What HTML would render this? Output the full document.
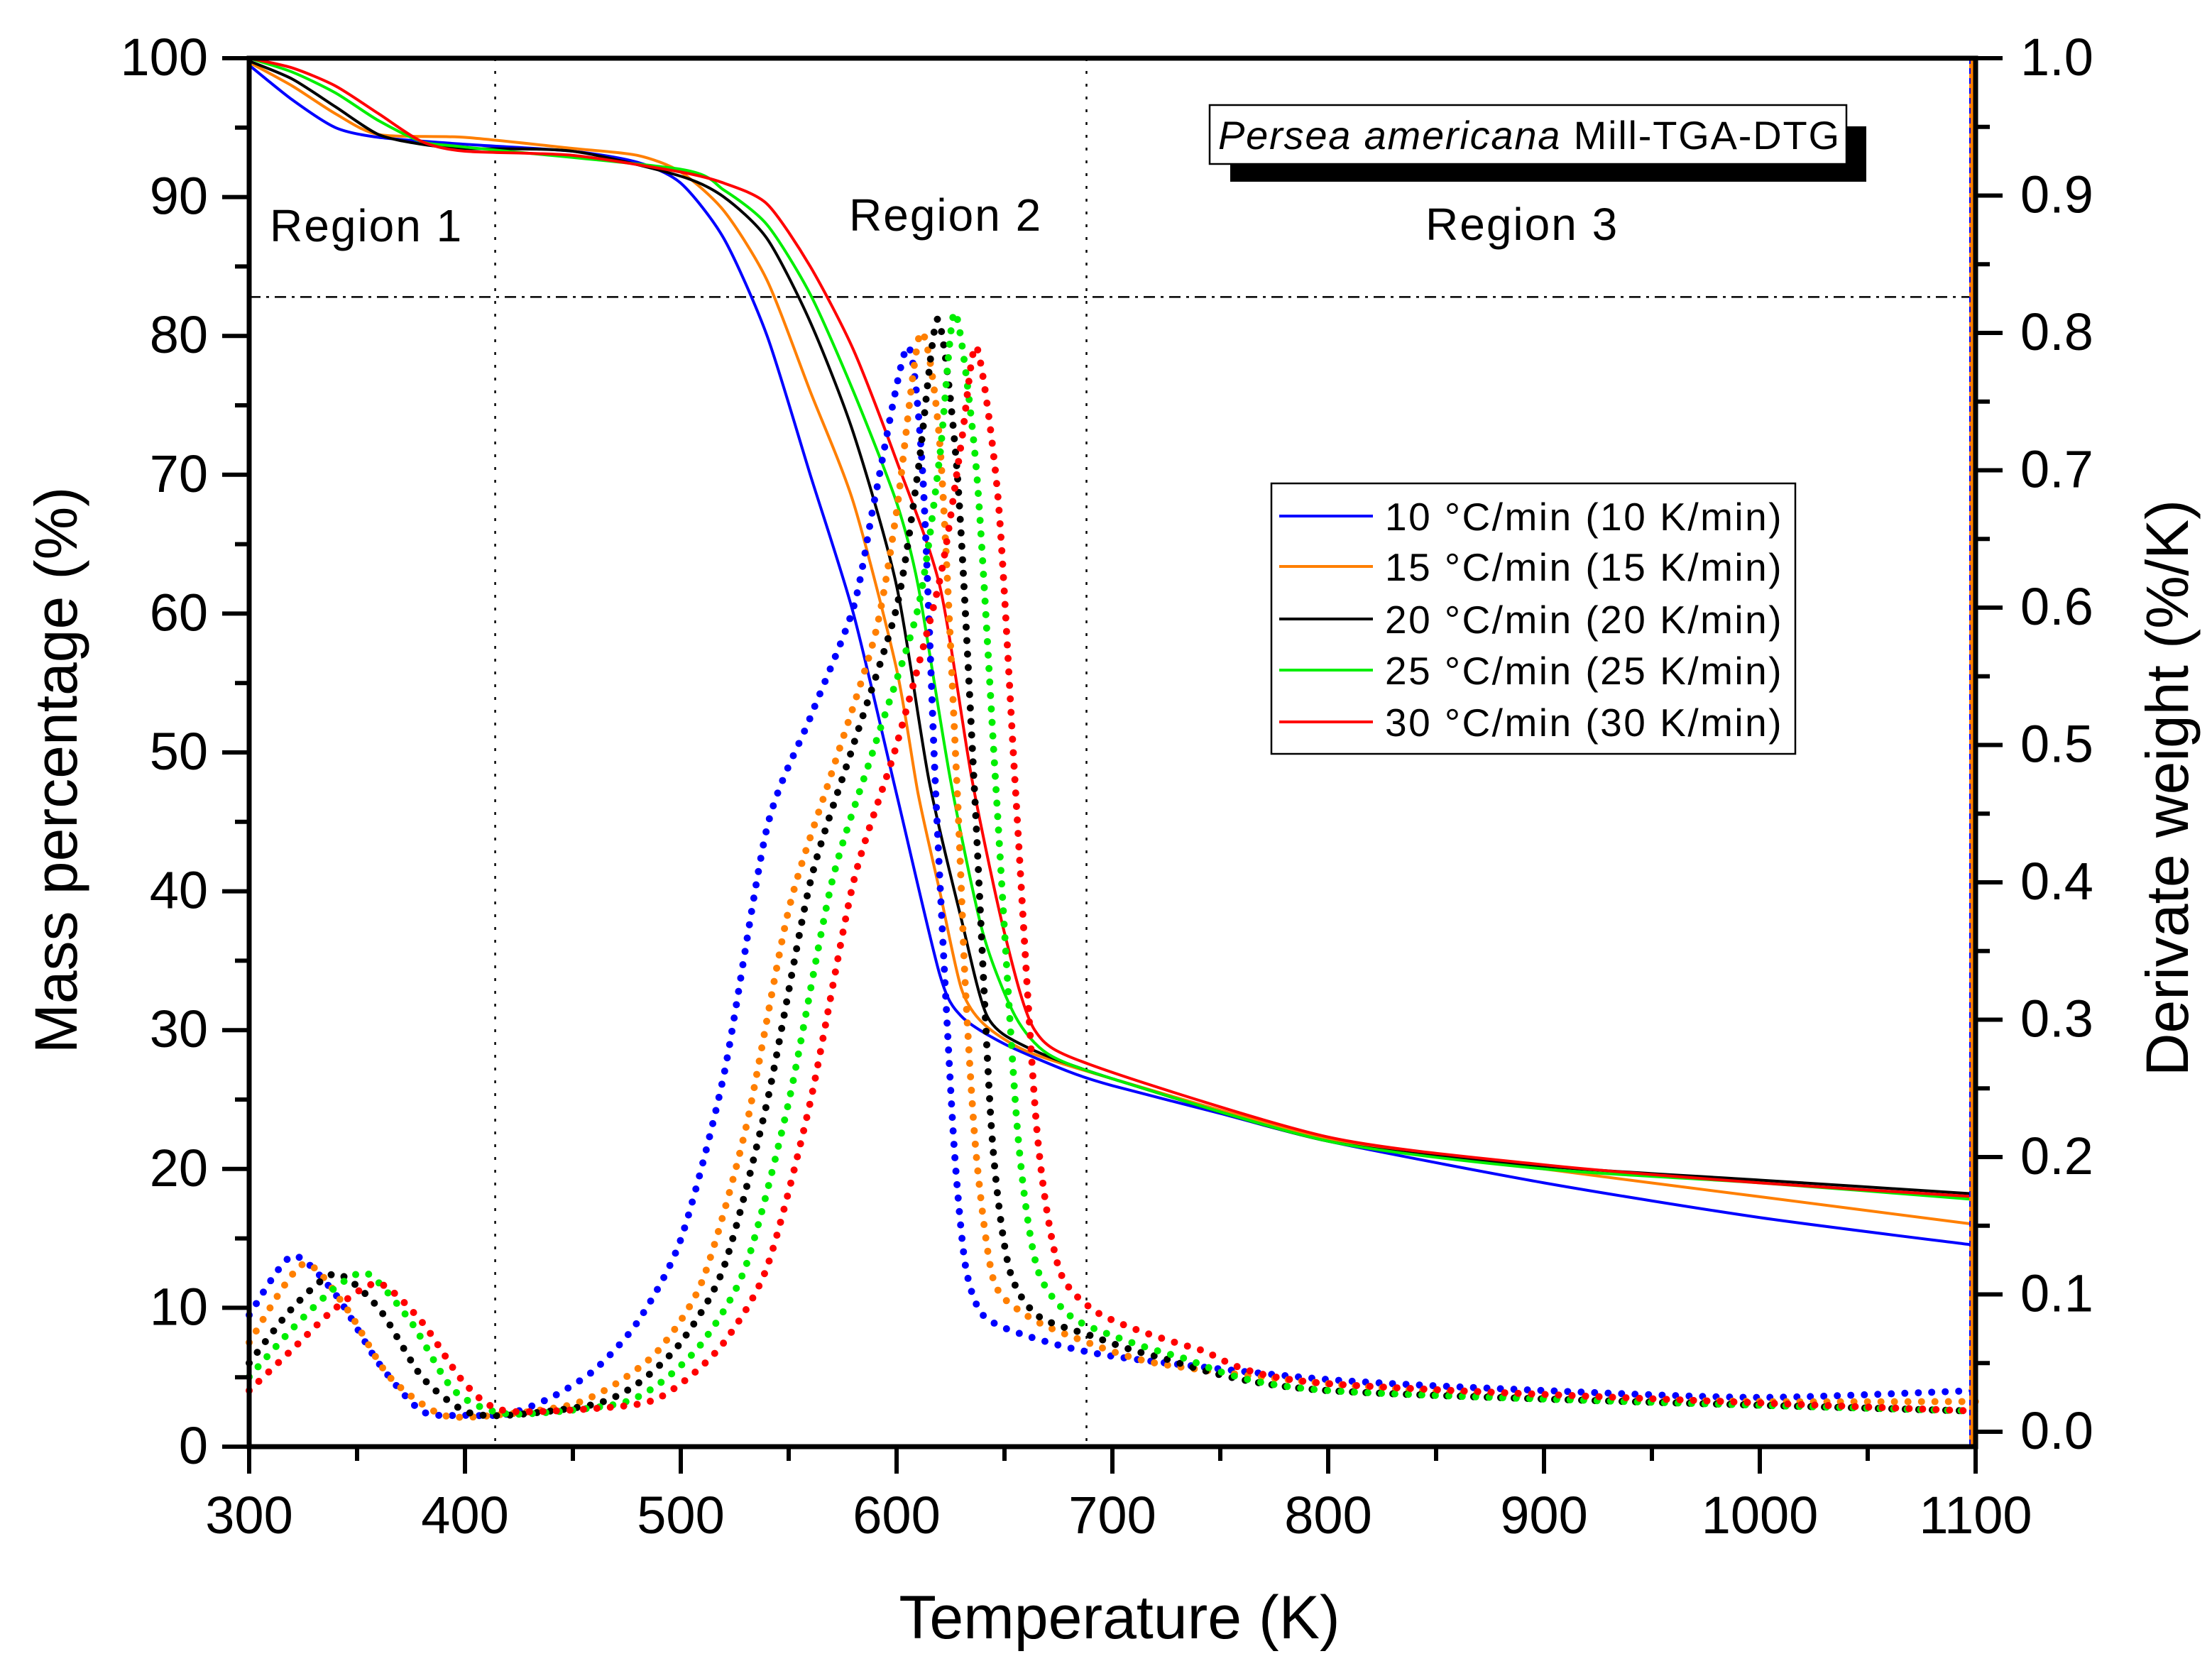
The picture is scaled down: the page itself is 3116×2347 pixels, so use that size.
<!DOCTYPE html>
<html><head><meta charset="utf-8"><style>
html,body{margin:0;padding:0;background:#fff;}
svg{display:block;}
text{font-family:"Liberation Sans",Arial,sans-serif;fill:#000;}
</style></head><body>
<svg id="chart" width="3116" height="2347" viewBox="0 0 3116 2347" xmlns="http://www.w3.org/2000/svg">
<g id="grid"></g>
<g id="tga"></g>
<g id="dtg"></g>
<g id="axes"></g>
<g id="ann"></g>
</svg>
<script>
const xTicks=[300,400,500,600,700,800,900,1000,1100];
const yLeftTicks=[0,10,20,30,40,50,60,70,80,90,100];
const yRightTicks=["0.0","0.1","0.2","0.3","0.4","0.5","0.6","0.7","0.8","0.9","1.0"];
const seriesNames=["10 °C/min (10 K/min)","15 °C/min (15 K/min)","20 °C/min (20 K/min)","25 °C/min (25 K/min)","30 °C/min (30 K/min)"];
const seriesColors=["#0000ff","#ff7f00","#000000","#00ee00","#ff0000"];
// TGA (T, mass %)
const tgaT10=[300,320,340,360,400,450,480,500,520,540,560,580,600,620,630,650,680,700,750,800,900,1000,1100];
const tgaM10=[99.5,97,95,94.3,93.8,93.3,92.5,91,87,80,70,60,47,34,31,29,27,26,24,22,19,16.5,14.5];
const tgaT15=[300,320,340,360,400,450,480,500,520,540,560,580,600,610,620,630,640,660,700,800,900,1000,1100];
const tgaM15=[99.7,98,96,94.5,94.3,93.5,93,91.8,89,84,76,68,56,47,40,33,30.5,28.5,26.5,22.2,20,18,16];
const tgaT20=[300,320,340,360,380,400,450,500,520,540,560,580,600,615,630,642,660,700,800,900,1000,1100];
const tgaM20=[99.8,98.5,96.5,94.5,93.8,93.5,93.3,91.5,90,87,81,73,62,48,38,31,28.8,26.5,22,20.2,19.2,18.2];
const tgaT25=[300,320,340,360,380,400,500,520,540,560,580,600,610,625,640,655,670,700,800,900,1000,1100];
const tgaM25=[100,99,97.5,95.5,94,93.6,92,90.5,88,83,76,68,62,48,37,31,28.3,26.5,22,20,19,17.8];
const tgaT30=[300,320,340,360,380,400,450,500,520,540,560,580,600,620,635,650,664,690,800,900,1000,1100];
const tgaM30=[100,99.3,98,96,94,93.3,93,91.8,91,89.5,85,79,71,62,48,37,30,27.5,22.3,20.3,19,18];
// DTG (T, %/K)
const dtgT10=[300,320,340,360,380,400,420,440,460,480,500,520,540,560,580,590,605,612,618,623,627,632,640,660,700,800,900,1000,1100];
const dtgD10=[0.085,0.128,0.10,0.05,0.015,0.012,0.013,0.025,0.045,0.08,0.14,0.26,0.44,0.52,0.60,0.68,0.79,0.70,0.47,0.31,0.20,0.12,0.085,0.07,0.055,0.038,0.03,0.025,0.03];
const dtgT15=[300,325,345,365,390,420,450,470,490,510,530,550,570,590,600,611,620,628,632,637,645,660,680,720,800,900,1000,1100];
const dtgD15=[0.065,0.122,0.09,0.04,0.012,0.013,0.02,0.035,0.06,0.11,0.22,0.38,0.48,0.58,0.67,0.80,0.72,0.47,0.32,0.20,0.11,0.085,0.07,0.05,0.035,0.025,0.022,0.022];
const dtgT20=[300,320,340,360,380,400,420,460,480,500,520,540,560,580,600,610,619,628,636,644,652,665,690,720,800,1100];
const dtgD20=[0.05,0.09,0.115,0.09,0.04,0.015,0.012,0.02,0.035,0.065,0.12,0.24,0.40,0.50,0.60,0.70,0.81,0.70,0.47,0.22,0.12,0.085,0.07,0.055,0.03,0.015];
const dtgT25=[300,320,340,355,375,395,420,470,490,510,530,550,570,590,610,620,627,637,646,656,665,680,700,730,800,1100];
const dtgD25=[0.04,0.075,0.105,0.115,0.08,0.03,0.013,0.02,0.035,0.065,0.12,0.24,0.40,0.50,0.60,0.71,0.815,0.70,0.47,0.22,0.12,0.085,0.07,0.055,0.03,0.015];
const dtgT30=[300,320,340,360,380,400,420,480,500,520,540,560,580,600,620,630,637,647,655,665,675,690,710,740,800,1100];
const dtgD30=[0.03,0.06,0.09,0.108,0.08,0.035,0.015,0.02,0.035,0.065,0.12,0.24,0.40,0.50,0.62,0.72,0.79,0.68,0.47,0.22,0.12,0.09,0.075,0.06,0.035,0.015];

const X0=351,X1=2783,YL0=2038,YL1=82,YR0=2017,YR1=82;
const sx=t=>X0+(t-300)/800*(X1-X0);
const syL=m=>YL0+(m)/100*(YL1-YL0);
const syR=d=>YR0+d*(YR1-YR0);
const NS="http://www.w3.org/2000/svg";
function mk(tag,attrs,parent){const e=document.createElementNS(NS,tag);for(const k in attrs)e.setAttribute(k,attrs[k]);parent.appendChild(e);return e;}
function smooth(pts){let d="M"+pts[0][0]+","+pts[0][1];for(let i=0;i<pts.length-1;i++){const p0=pts[i-1]||pts[i],p1=pts[i],p2=pts[i+1],p3=pts[i+2]||p2;
const k=8;const c1x=p1[0]+(p2[0]-p0[0])/k,c1y=p1[1]+(p2[1]-p0[1])/k,c2x=p2[0]-(p3[0]-p1[0])/k,c2y=p2[1]-(p3[1]-p1[1])/k;
d+=" C"+c1x+","+c1y+" "+c2x+","+c2y+" "+p2[0]+","+p2[1];}return d;}
const grid=document.getElementById('grid'),tga=document.getElementById('tga'),dtg=document.getElementById('dtg'),axes=document.getElementById('axes'),ann=document.getElementById('ann');
let g1=mk('line',{x1:sx(414),x2:sx(414),y1:YL1,y2:YL0,stroke:'#000','stroke-width':2.5,'stroke-dasharray':'4 14'},grid);


let g2=mk('line',{x1:sx(688),x2:sx(688),y1:YL1,y2:YL0,stroke:'#000','stroke-width':2.5,'stroke-dasharray':'4 14'},grid);


let g3=mk('line',{x1:X0,x2:X1,y1:syL(82.8),y2:syL(82.8),stroke:'#000','stroke-width':2.5,'stroke-dasharray':'16 8 4 8'},grid);


const tgaTs=[tgaT10,tgaT15,tgaT20,tgaT25,tgaT30],tgaMs=[tgaM10,tgaM15,tgaM20,tgaM25,tgaM30];
for(let s=0;s<5;s++){const pts=tgaTs[s].map((t,i)=>[sx(t),syL(tgaMs[s][i])]);
const p=mk('path',{d:smooth(pts),fill:'none',stroke:seriesColors[s],'stroke-width':4},tga);

}
const dtgTs=[dtgT10,dtgT15,dtgT20,dtgT25,dtgT30],dtgDs=[dtgD10,dtgD15,dtgD20,dtgD25,dtgD30];
for(let s=0;s<5;s++){const pts=dtgTs[s].map((t,i)=>[sx(t),syR(dtgDs[s][i])]);
const p=mk('path',{d:smooth(pts),fill:'none',stroke:seriesColors[s],'stroke-width':10,'stroke-linecap':'round','stroke-dasharray':'0 19'},dtg);

}
let v1=mk('line',{x1:2777,x2:2777,y1:YL1,y2:YL0,stroke:'#ff7f00','stroke-width':6},dtg);


let v2=mk('line',{x1:2775,x2:2775,y1:YL1,y2:YL0,stroke:'#0000ff','stroke-width':2,'stroke-dasharray':'8 6'},dtg);


let fr=mk('path',{d:`M${X0},${YL1} H${X1} V${YL0} H${X0} Z`,fill:'none',stroke:'#000','stroke-width':7},axes);


for(let t=300;t<=1100;t+=50){const major=t%100===0;
const l=mk('line',{x1:sx(t),x2:sx(t),y1:YL0,y2:YL0+(major?38:20),stroke:'#000','stroke-width':6},axes);

}
xTicks.forEach(t=>{const tx=mk('text',{x:sx(t),y:2160,'font-size':74,'text-anchor':'middle'},axes);tx.textContent=t;

});
for(let m=0;m<=100;m+=5){const major=m%10===0;
const l=mk('line',{x1:X0,x2:X0-(major?38:20),y1:syL(m),y2:syL(m),stroke:'#000','stroke-width':6},axes);

}
yLeftTicks.forEach(m=>{const tx=mk('text',{x:X0-58,y:syL(m)+24,'font-size':74,'text-anchor':'end'},axes);tx.textContent=m;

});
for(let i=0;i<=20;i++){const major=i%2===0;const d=i*0.05;
const l=mk('line',{x1:X1,x2:X1+(major?38:20),y1:syR(d),y2:syR(d),stroke:'#000','stroke-width':6},axes);

}
yRightTicks.forEach(v=>{const tx=mk('text',{x:2846,y:syR(parseFloat(v))+24,'font-size':74},axes);tx.textContent=v;

});
let xt=mk('text',{x:1577,y:2308,'font-size':86,'text-anchor':'middle'},ann);xt.textContent='Temperature (K)';


let yt=mk('text',{x:0,y:0,'font-size':84,'text-anchor':'middle',transform:'translate(108,1085) rotate(-90)'},ann);yt.textContent='Mass percentage (%)';


let yt2=mk('text',{x:0,y:0,'font-size':84,'text-anchor':'middle',transform:'translate(3082,1110) rotate(-90)'},ann);yt2.textContent='Derivate weight (%/K)';


[['Region 1',380,340],['Region 2',1196,325],['Region 3',2008,338]].forEach((r,i)=>{const tx=mk('text',{x:r[1],y:r[2],'font-size':64,'letter-spacing':2},ann);tx.textContent=r[0];

});
let sh=mk('rect',{x:1733,y:178,width:896,height:78,fill:'#000'},ann);


let tb=mk('rect',{x:1704,y:148,width:897,height:83,fill:'#fff',stroke:'#000','stroke-width':2.5},ann);


let tt=mk('text',{x:1716,y:210,'font-size':56,'letter-spacing':1.8},ann);


const ti=mk('tspan',{'font-style':'italic'},tt);ti.textContent='Persea americana';
const tn=mk('tspan',{},tt);tn.textContent=' Mill-TGA-DTG';
let lb=mk('rect',{x:1791,y:681,width:738,height:381,fill:'#fff',stroke:'#000','stroke-width':2.5},ann);


const legY=[727,798,872,944,1017];
seriesNames.forEach((n,i)=>{const ln=mk('line',{x1:1802,x2:1934,y1:legY[i],y2:legY[i],stroke:seriesColors[i],'stroke-width':4},ann);


const tx=mk('text',{x:1951,y:legY[i]+20,'font-size':55,'letter-spacing':2.5},ann);tx.textContent=n;

});
</script>
</body></html>
